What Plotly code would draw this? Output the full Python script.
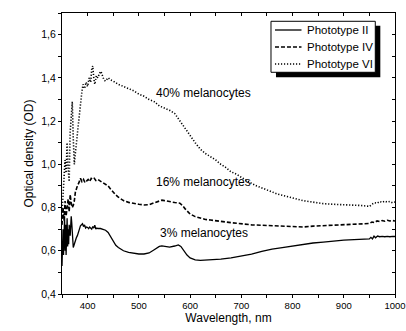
import plotly.graph_objects as go

# ---------------- data ----------------
wl_II = [350, 351, 352, 353, 354, 355, 356, 357, 358, 359, 360, 361, 362, 363, 364, 366, 368, 369, 370,
         372, 374, 376, 378, 380, 382, 384, 386, 388, 390, 392, 394, 396, 398, 400, 402, 404, 406, 408,
         410, 412, 414, 416, 418, 420, 425, 430, 435, 440, 445, 450, 455, 460, 470, 480, 490, 500, 510,
         520, 530, 540, 545, 550, 560, 570, 577, 582, 588, 594, 600, 610, 620, 640, 660, 680, 700, 720,
         740, 760, 780, 800, 820, 840, 860, 880, 900, 920, 940, 950, 953, 956, 959, 962, 966, 970, 975,
         980, 985, 990, 995, 1000]
od_II = [0.53, 0.62, 0.70, 0.58, 0.66, 0.76, 0.60, 0.72, 0.58, 0.68, 0.75, 0.62, 0.70, 0.63, 0.72, 0.67,
         0.76, 0.73, 0.66, 0.615, 0.63, 0.65, 0.66, 0.67, 0.69, 0.70, 0.715, 0.72, 0.725, 0.712, 0.72,
         0.705, 0.71, 0.708, 0.702, 0.71, 0.705, 0.70, 0.712, 0.705, 0.718, 0.70, 0.705, 0.703, 0.703,
         0.70, 0.695, 0.685, 0.665, 0.64, 0.625, 0.615, 0.60, 0.593, 0.588, 0.585, 0.585, 0.59, 0.605,
         0.62, 0.623, 0.62, 0.617, 0.622, 0.627, 0.62, 0.60, 0.58, 0.567, 0.558, 0.556, 0.557, 0.561,
         0.567, 0.575, 0.584, 0.597, 0.608, 0.615, 0.622, 0.63, 0.636, 0.64, 0.646, 0.649, 0.652, 0.654,
         0.655, 0.662, 0.655, 0.668, 0.66, 0.668, 0.665, 0.667, 0.665, 0.667, 0.665, 0.667, 0.666]

wl_IV = [350, 352, 354, 356, 358, 360, 362, 364, 366, 368, 370, 372, 374, 376, 378, 380, 383, 386, 389,
         392, 395, 398, 401, 404, 407, 410, 413, 416, 420, 425, 430, 435, 440, 445, 450, 455, 460, 470,
         480, 490, 500, 510, 520, 530, 540, 545, 550, 560, 570, 580, 585, 590, 595, 600, 610, 620, 630,
         640, 650, 660, 670, 680, 690, 700, 720, 740, 760, 780, 800, 820, 840, 860, 880, 900, 920, 940,
         950, 955, 960, 965, 970, 975, 980, 985, 990, 995, 1000]
od_IV = [0.72, 0.80, 0.74, 0.83, 0.76, 0.80, 0.84, 0.78, 0.86, 0.82, 0.80, 0.81, 0.83, 0.87, 0.89, 0.90,
         0.915, 0.935, 0.92, 0.93, 0.915, 0.925, 0.93, 0.92, 0.935, 0.93, 0.935, 0.925, 0.93, 0.922, 0.915,
         0.91, 0.90, 0.885, 0.87, 0.858, 0.848, 0.832, 0.824, 0.818, 0.815, 0.812, 0.813, 0.822, 0.832,
         0.834, 0.832, 0.826, 0.823, 0.82, 0.81, 0.795, 0.78, 0.77, 0.758, 0.75, 0.745, 0.742, 0.738,
         0.735, 0.733, 0.73, 0.727, 0.725, 0.72, 0.718, 0.716, 0.715, 0.714, 0.71, 0.714, 0.716, 0.717,
         0.72, 0.723, 0.725, 0.726, 0.733, 0.73, 0.738, 0.735, 0.74, 0.737, 0.741, 0.738, 0.74, 0.738]

wl_VI = [350, 352, 354, 356, 358, 360, 362, 364, 366, 368, 370, 372, 374, 376, 378, 380, 382, 385, 388,
         391, 394, 397, 400, 403, 406, 408, 410, 412, 414, 417, 420, 423, 426, 429, 432, 435, 440, 445,
         450, 460, 470, 480, 490, 500, 510, 520, 530, 540, 550, 560, 570, 580, 590, 600, 610, 620, 630,
         640, 650, 660, 670, 680, 690, 700, 710, 720, 730, 740, 750, 760, 770, 780, 790, 800, 820, 840,
         860, 880, 900, 910, 920, 930, 940, 950, 955, 960, 965, 970, 975, 980, 985, 990, 995, 1000]
od_VI = [0.78, 0.85, 0.95, 1.02, 0.96, 1.10, 0.98, 0.92, 1.15, 1.25, 1.29, 1.12, 1.00, 1.05, 1.10, 1.15,
         1.20, 1.27, 1.32, 1.37, 1.35, 1.38, 1.36, 1.40, 1.38, 1.44, 1.455, 1.40, 1.37, 1.41, 1.40, 1.42,
         1.43, 1.41, 1.39, 1.385, 1.40, 1.39, 1.385, 1.37, 1.36, 1.35, 1.34, 1.325, 1.315, 1.30, 1.29,
         1.27, 1.26, 1.25, 1.235, 1.20, 1.165, 1.13, 1.10, 1.07, 1.05, 1.035, 1.02, 1.00, 0.985, 0.965,
         0.955, 0.94, 0.925, 0.912, 0.90, 0.89, 0.88, 0.87, 0.863, 0.857, 0.85, 0.843, 0.832, 0.825,
         0.818, 0.815, 0.813, 0.815, 0.812, 0.81, 0.808, 0.805, 0.815, 0.822, 0.82, 0.828, 0.824, 0.83,
         0.825, 0.828, 0.822, 0.826]

series_names = ["Phototype II", "Phototype IV", "Phototype VI"]
labels = ["3% melanocytes", "16% melanocytes", "40% melanocytes"]
label_x = [627, 627, 627]
label_y = [0.682, 0.917, 1.328]

x_ticks = [400, 500, 600, 700, 800, 900, 1000]
y_ticks = [0.4, 0.6, 0.8, 1.0, 1.2, 1.4, 1.6]
y_tick_text = ["0,4", "0,6", "0,8", "1,0", "1,2", "1,4", "1,6"]

# ---------------- figure ----------------
FONT = "Liberation Sans, Arial, sans-serif"
fig = go.Figure()
styles = [dict(dash="solid", width=1.3),
          dict(dash="4px,2px", width=1.6),
          dict(dash="1.2px,1.8px", width=1.6)]
for wl, od, name, st in zip([wl_II, wl_IV, wl_VI], [od_II, od_IV, od_VI], series_names, styles):
    fig.add_trace(go.Scatter(x=wl, y=od, mode="lines", name=name, showlegend=False,
                             line=dict(color="black", **st)))

# helper trace for the mirrored (inside-tick) axes
fig.add_trace(go.Scatter(x=[], y=[], xaxis="x2", yaxis="y2", showlegend=False, hoverinfo="skip"))

for txt, lx, ly in zip(labels, label_x, label_y):
    fig.add_annotation(x=lx, y=ly, text=txt, showarrow=False, xanchor="center", yanchor="middle",
                       font=dict(family=FONT, size=12, color="black"))

# ---- boxed legend with drop shadow (paper coordinates) ----
LEG_BOX = dict(x0=0.6276, x1=0.9408, y0=0.789, y1=0.9705)
LEG_SHADOW = dict(x0=0.6426, x1=0.9559, y0=0.7712, y1=0.9548)
LEG_ROWS = [0.9395, 0.879, 0.8185]
LEG_LINE_X = (0.6396, 0.7192)
LEG_TEXT_X = 0.7297

fig.add_shape(type="rect", xref="paper", yref="paper", fillcolor="black", line=dict(width=0),
              layer="above", **LEG_SHADOW)
fig.add_shape(type="rect", xref="paper", yref="paper", fillcolor="white",
              line=dict(color="black", width=1), layer="above", **LEG_BOX)
for name, st, ry in zip(series_names, styles, LEG_ROWS):
    fig.add_shape(type="line", xref="paper", yref="paper", x0=LEG_LINE_X[0], x1=LEG_LINE_X[1],
                  y0=ry, y1=ry, line=dict(color="black", dash=st["dash"], width=st["width"]),
                  layer="above")
    fig.add_annotation(xref="paper", yref="paper", x=LEG_TEXT_X, y=ry, text=name, showarrow=False,
                       xanchor="left", yanchor="middle",
                       font=dict(family=FONT, size=11.5, color="black"))

XR = [350, 1000]
YR = [0.4, 1.7]
axis_common = dict(showgrid=False, zeroline=False, showline=True, linecolor="black", linewidth=1,
                   tickcolor="black", tickwidth=1, ticklen=3, automargin=False)

fig.update_layout(
    width=406, height=331,
    margin=dict(l=62, r=11, t=13, b=37, autoexpand=False),
    paper_bgcolor="white", plot_bgcolor="white",
    font=dict(family=FONT, size=10, color="black"),
    xaxis=dict(range=XR, tickvals=x_ticks, ticktext=[str(v) for v in x_ticks], ticks="outside",
               minor=dict(dtick=50, tick0=350, ticks="outside", ticklen=3, tickcolor="black"),
               title=dict(text="Wavelength, nm", font=dict(size=12), standoff=0),
               tickfont=dict(size=9.5), **axis_common),
    yaxis=dict(range=YR, tickvals=y_ticks, ticktext=y_tick_text, ticks="outside",
               minor=dict(dtick=0.1, tick0=0.4, ticks="outside", ticklen=3, tickcolor="black"),
               title=dict(text="Optical density (OD)", font=dict(size=12), standoff=5),
               tickfont=dict(size=10.5), **axis_common),
    xaxis2=dict(range=XR, overlaying="x", side="top", anchor="y2", ticks="inside", dtick=50, tick0=350,
                showticklabels=False, **axis_common),
    yaxis2=dict(range=YR, overlaying="y", side="right", anchor="x2", ticks="inside", dtick=0.1, tick0=0.4,
                showticklabels=False, **axis_common),
    showlegend=False,
)

fig.write_html("out.html")
